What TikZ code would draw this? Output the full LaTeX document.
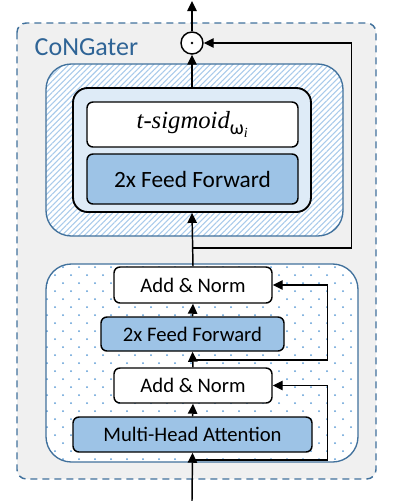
\documentclass[tikz,border=0pt]{standalone}
\usepackage{fontspec}
\setmainfont{Carlito}
\newfontfamily\sigfont{Liberation Serif}
\usetikzlibrary{positioning,arrows.meta,patterns.meta}
\definecolor{frame}{HTML}{41719C}
\definecolor{titleblue}{HTML}{2F6496}
\definecolor{shade}{HTML}{F0F0F0}
\definecolor{paleblue}{HTML}{DEEBF7}
\definecolor{midblue}{HTML}{9DC3E6}
\definecolor{hatchblue}{HTML}{A9CBEB}
\definecolor{dotblue}{HTML}{5B9BD5}
\tikzset{
  block/.style={draw=black,line width=1.1pt,rounded corners=4.5pt,inner sep=0pt,
    font=\fontsize{15.5}{17}\selectfont},
  whiteblock/.style={block,fill=white},
  ffblock/.style={block,fill=midblue},
  flow/.style={line width=1.1pt,-{Triangle[length=7.5pt,width=7pt]}},
  panel/.style={draw=frame,line width=1pt,rounded corners=19pt},
}

\begin{document}
\begin{tikzpicture}[x=0.75pt,y=-0.75pt]
  \useasboundingbox (0,0) rectangle (393,501);
  % outer frame
  \draw[frame,fill=shade,line width=1.1pt,dash pattern=on 5.25pt off 3.75pt,rounded corners=7pt]
    (17,23) rectangle (376,479);
  \node[anchor=west,text=titleblue,font=\fontsize{19.5}{21}\selectfont] (title) at (30,47) {CoNGater};

  % gate panel (hatched)
  \fill[white,rounded corners=19pt] (46,64) rectangle (343,236);
  \fill[pattern={Lines[angle=45,distance=3pt,line width=0.8pt]},pattern color=hatchblue,rounded corners=19pt]
    (46,64) rectangle (343,236);
  \draw[panel] (46,64) rectangle (343,236);

  % encoder panel (dotted)
  \fill[white,rounded corners=19pt] (46,264) rectangle (358,462);
  \begin{scope}
    \clip[rounded corners=19pt] (46,264) rectangle (358,462);
    \foreach \r in {0,...,25}{
      \pgfmathsetmacro{\off}{mod(\r,2)*8}
      \foreach \c in {0,...,20}
        \fill[dotblue] (47+16*\c+\off,267+8*\r) circle (0.75pt);
    }
  \end{scope}
  \draw[panel] (46,264) rectangle (358,462);

  % encoder blocks
  \node[ffblock,minimum width=179.25pt,minimum height=26.25pt] (mha) at (192.5,434.5) {Multi-Head Attention};
  \node[whiteblock,minimum width=118.5pt,minimum height=26.25pt] (addone) at (193,385.5) {Add \& Norm};
  \node[ffblock,minimum width=137.25pt,minimum height=25.5pt] (ffone) at (192.5,334) {2x Feed Forward};
  \node[whiteblock,minimum width=118.5pt,minimum height=27pt] (addtwo) at (193,285) {Add \& Norm};

  % gate blocks
  \node[draw=black,line width=1.4pt,fill=paleblue,rounded corners=11pt,
    minimum width=178.5pt,minimum height=93pt] (gatebox) at (192,150) {};
  \node[whiteblock,minimum width=158.25pt,minimum height=33.75pt,font=\fontsize{18.5}{20}\selectfont]
    (sigmoid) at (192.5,124.5) {{\sigfont\itshape t-sigmoid}\raisebox{-4pt}{\fontsize{15}{16}\selectfont ω\textsubscript{\sigfont\itshape i}}};
  \node[ffblock,minimum width=158.25pt,minimum height=37.5pt,font=\fontsize{17.5}{19}\selectfont]
    (fftwo) at (192.5,179) {2x Feed Forward};
  \node[draw=black,line width=1.1pt,fill=white,circle,minimum size=16.5pt,inner sep=0pt] (gate) at (192,43) {};
  \fill (gate.center) circle (1.1pt);

  % connectors
  \coordinate (input) at (192,501);
  \coordinate (output) at (192,1);
  \coordinate (resone) at (192,460);
  \coordinate (restwo) at (192,360);
  \coordinate (resgate) at (192,248);
  \draw[flow] (input) -- (mha.south);
  \draw[flow] (mha.north) -- (addone.south);
  \draw[flow] (addone.north) -- (ffone.south);
  \draw[flow] (ffone.north) -- (addtwo.south);
  \draw[flow] (addtwo.north) -- (gatebox.south);
  \draw[flow] (gatebox.north) -- (gate.south);
  \draw[flow] (gate.north) -- (output);
  \draw[flow] (resone) -| ([xshift=41.25pt]addone.east) -- (addone.east);
  \draw[flow] (restwo) -| ([xshift=41.25pt]addtwo.east) -- (addtwo.east);
  \draw[flow] (resgate) -| ([xshift=111pt]gate.east) -- (gate.east);
\end{tikzpicture}
\end{document}
